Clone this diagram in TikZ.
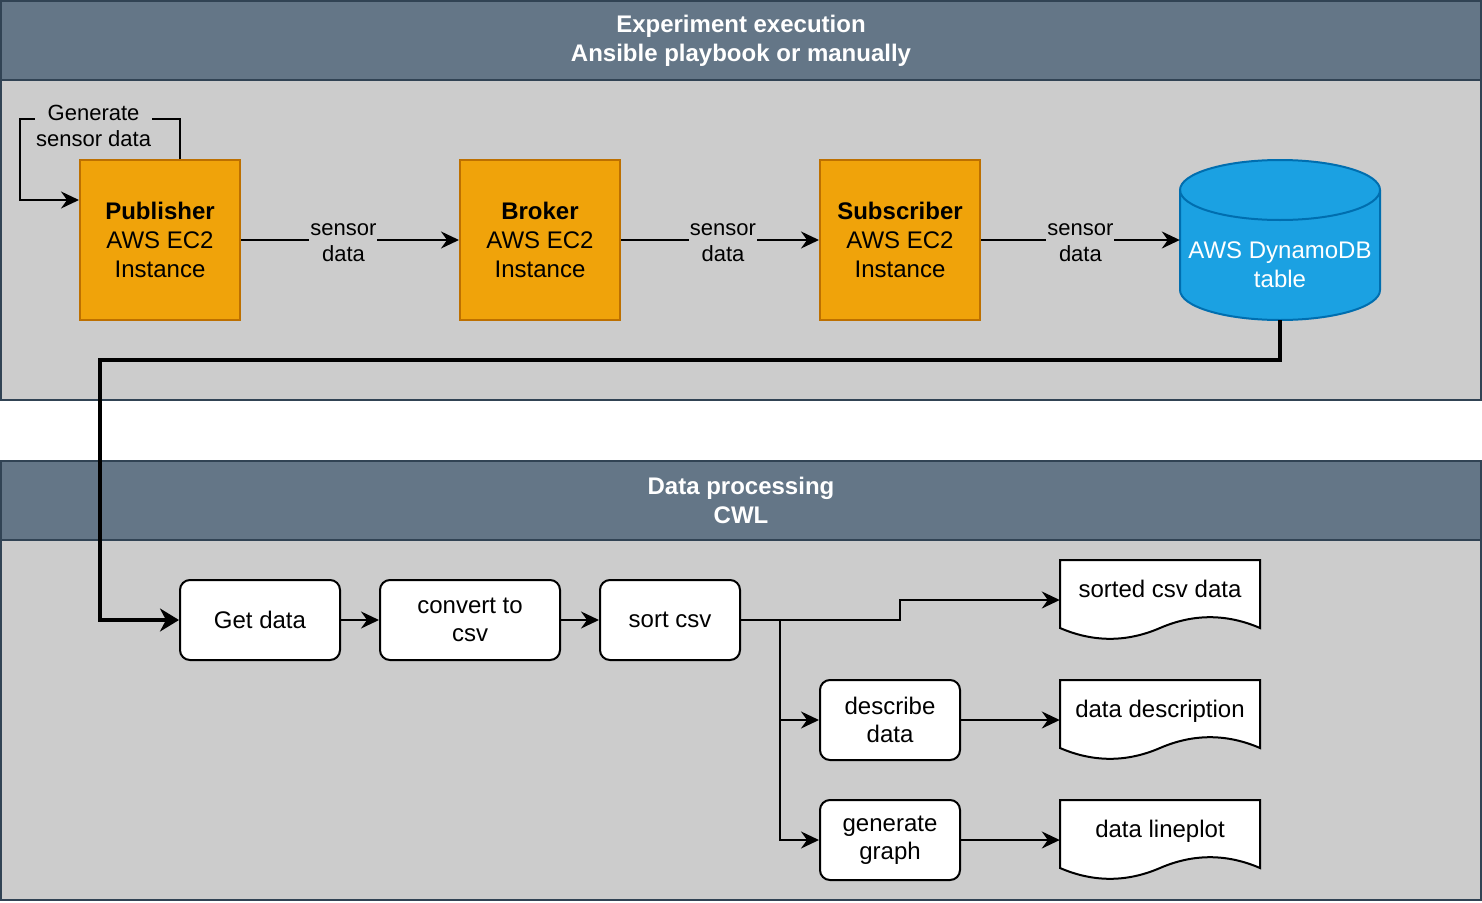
\documentclass[tikz,border=0pt]{standalone}
\usepackage{fontspec}
\setmainfont{Liberation Sans}
\usetikzlibrary{arrows.meta}
\definecolor{headfill}{HTML}{647687}
\definecolor{headline}{HTML}{314354}
\definecolor{bodyfill}{HTML}{CCCCCC}
\definecolor{ec2fill}{HTML}{F0A30A}
\definecolor{ec2line}{HTML}{BD7000}
\definecolor{dynfill}{HTML}{1BA1E2}
\definecolor{dynline}{HTML}{006EAF}
\tikzstyle{node_head} = [rectangle, draw=headline, fill=headfill, line width=2pt, minimum width=1480pt, minimum height=79pt, text=white, align=center, font=\bfseries\fontsize{24}{29}\selectfont]
\tikzstyle{node_body} = [rectangle, draw=headline, fill=bodyfill, line width=2pt, minimum width=1480pt]
\tikzstyle{node_ec2} = [rectangle, draw=ec2line, fill=ec2fill, line width=2pt, minimum size=160pt, align=center, font=\fontsize{24}{29}\selectfont]
\tikzstyle{node_dyn} = [rectangle, minimum width=200pt, minimum height=160pt, inner sep=0pt]
\tikzstyle{dyn_line} = [draw=dynline, fill=dynfill, line width=2pt]
\tikzstyle{dyn_text} = [text=white, align=center, yshift=-25pt, font=\fontsize{24}{29}\selectfont]
\tikzstyle{node_step} = [rectangle, rounded corners=10pt, draw, fill=white, line width=2pt, minimum height=80pt, align=center, font=\fontsize{24}{28}\selectfont]
\tikzstyle{node_doc} = [rectangle, minimum width=200pt, minimum height=80pt, inner sep=0pt, text height=17pt, text depth=23pt, font=\fontsize{24}{29}\selectfont]
\tikzstyle{doc_line} = [draw, fill=white, line width=2pt]
\tikzstyle{edge_normal} = [line width=2pt, -{Stealth[length=18pt,width=17pt,inset=6pt]}]
\tikzstyle{edge_thick} = [line width=4pt, -{Stealth[length=19pt,width=23pt,inset=6pt]}]
\tikzstyle{edge_label} = [fill=bodyfill, inner sep=1pt, align=center, yshift=-3pt, font=\fontsize{22}{26}\selectfont]

\begin{document}
\begin{tikzpicture}[x=1pt,y=-1pt]
\useasboundingbox (0,0) rectangle (1482,902);
\node (ExpBody) at (741,200.5) [node_body, minimum height=399pt] {};
\node (ExpHead) at (741,40.5) [node_head] {Experiment execution\\Ansible playbook or manually};
\node (ProcBody) at (741,680.5) [node_body, minimum height=439pt] {};
\node (ProcHead) at (741,500.5) [node_head] {Data processing\\CWL};
\node (Pub) at (160,240) [node_ec2] {{\bfseries Publisher}\\AWS EC2\\Instance};
\node (Broker) at (540,240) [node_ec2] {{\bfseries Broker}\\AWS EC2\\Instance};
\node (Sub) at (900,240) [node_ec2] {{\bfseries Subscriber}\\AWS EC2\\Instance};
\draw[dyn_line] (1180,190) -- (1180,290) arc[start angle=180, end angle=360, x radius=100pt, y radius=30pt] -- (1380,190) arc[start angle=0, end angle=180, x radius=100pt, y radius=30pt] -- cycle;
\draw[dyn_line, fill=none] (1180,190) arc[start angle=180, end angle=360, x radius=100pt, y radius=30pt];
\node (Dyn) at (1280,240) [node_dyn, label={[dyn_text]center:{AWS DynamoDB\\table}}] {};
\draw[edge_normal] ([xshift=20pt]Pub.north) -- ++(0,-40) -- node[edge_label, pos=0.54, yshift=-4pt] {Generate\\sensor data} ++(-160,0) |- ([yshift=40pt]Pub.west);
\draw[edge_normal] (Pub) -- node[edge_label, pos=0.47] {sensor\\data} (Broker);
\draw[edge_normal] (Broker) -- node[edge_label, pos=0.515] {sensor\\data} (Sub);
\draw[edge_normal] (Sub) -- node[edge_label] {sensor\\data} (Dyn);
\node (Get) at (260,620) [node_step, minimum width=160pt] {Get data};
\node (Convert) at (470,620) [node_step, minimum width=180pt] {convert to\\csv};
\node (Sort) at (670,620) [node_step, minimum width=140pt] {sort csv};
\node (Describe) at (890,720) [node_step, minimum width=140pt] {describe\\data};
\node (Graph) at (890,840) [node_step, minimum width=140pt] {generate\\graph};
\foreach \y in {560,680,800}
  \draw[doc_line] (1060,\y) -- (1260,\y) -- (1260,\y+68) .. controls (1226.7,\y+53.6) and (1193.3,\y+53.6) .. (1160,\y+68) .. controls (1126.7,\y+82.4) and (1093.3,\y+82.4) .. (1060,\y+68) -- cycle;
\node (Sorted) at (1160,600) [node_doc] {sorted csv data};
\node (Descr) at (1160,720) [node_doc] {data description};
\node (Plot) at (1160,840) [node_doc] {data lineplot};
\coordinate (Split) at (780,620);
\draw[edge_thick] (Dyn.south) |- (100,360) |- (Get);
\draw[edge_normal] (Get) -- (Convert);
\draw[edge_normal] (Convert) -- (Sort);
\draw[edge_normal] (Sort) -| (900,600) -- (Sorted);
\draw[edge_normal] (Split) |- (Describe);
\draw[edge_normal] (Split) |- (Graph);
\draw[edge_normal] (Describe) -- (Descr);
\draw[edge_normal] (Graph) -- (Plot);
\end{tikzpicture}
\end{document}
